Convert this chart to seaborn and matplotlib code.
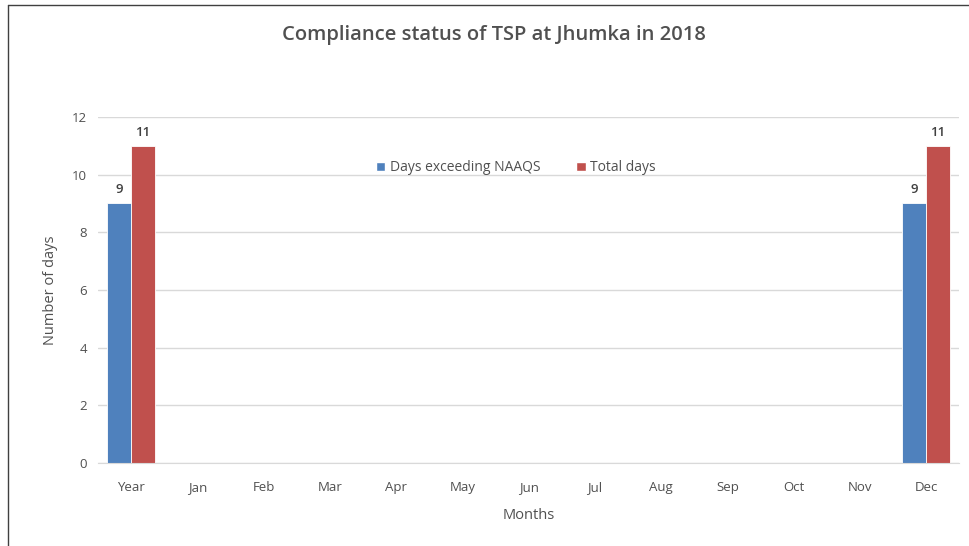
import numpy as np
import pandas as pd
import matplotlib.pyplot as plt
import seaborn as sns
from matplotlib.lines import Line2D
from matplotlib.patches import Patch

months = ['Year', 'Jan', 'Feb', 'Mar', 'Apr', 'May', 'Jun', 'Jul', 'Aug', 'Sep', 'Oct', 'Nov', 'Dec']
exceeding = [9, np.nan, np.nan, np.nan, np.nan, np.nan, np.nan, np.nan, np.nan, np.nan, np.nan, np.nan, 9]
total = [11, np.nan, np.nan, np.nan, np.nan, np.nan, np.nan, np.nan, np.nan, np.nan, np.nan, np.nan, 11]
series = ['Days exceeding NAAQS', 'Total days']
colors = ['#4f81bd', '#c0504d']

df = pd.DataFrame({'Month': months * 2,
                   'Days': exceeding + total,
                   'Series': [series[0]] * len(months) + [series[1]] * len(months)})

sns.set_style('white')
plt.rcParams['font.family'] = ['Open Sans', 'DejaVu Sans']
txt = '#505050'

fig = plt.figure(figsize=(9.69, 5.46), dpi=100)
ax = fig.add_axes([0.101, 0.152, 0.889, 0.634])

sns.barplot(data=df, x='Month', y='Days', hue='Series', order=months, hue_order=series,
            palette=colors, width=0.72, ax=ax, legend=False, saturation=1, edgecolor='white', linewidth=0.6)

for cont in ax.containers:
    labels = ['' if np.isnan(v) else f'{v:.0f}' for v in cont.datavalues]
    ax.bar_label(cont, labels=labels, padding=5, fontsize=9.5, color='#404040', fontweight='semibold')

ax.set_ylim(0, 12)
ax.set_yticks(range(0, 13, 2))
ax.set_xlim(-0.5, len(months) - 0.5)
ax.yaxis.grid(True, color='#d9d9d9', linewidth=1)
ax.set_axisbelow(True)
for s in ['top', 'right', 'left']:
    ax.spines[s].set_visible(False)
ax.spines['bottom'].set_color('#d9d9d9')
ax.tick_params(axis='both', length=0, labelsize=9.5, colors=txt, pad=8)
ax.tick_params(axis='x', pad=13)
ax.set_xlabel('Months', fontsize=10.5, color=txt, labelpad=10)
ax.set_ylabel('Number of days', fontsize=10.5, color=txt, labelpad=10)

handles = [Patch(facecolor=c) for c in colors]
ax.legend(handles, series, loc='upper center', bbox_to_anchor=(0.485, 0.91), ncol=2, frameon=False,
          fontsize=10, labelcolor=txt, handlelength=0.7, handleheight=0.7, handletextpad=0.3, columnspacing=2.6)

fig.suptitle('Compliance status of TSP at Jhumka in 2018', x=0.51, y=0.955, fontsize=14.5,
             color='#505050', fontweight='semibold')

fig.add_artist(Line2D([0.008, 0.008], [0, 0.99], color='#404040', linewidth=1))
fig.add_artist(Line2D([0.008, 1], [0.99, 0.99], color='#404040', linewidth=1))

fig.savefig('out.png', dpi=100)
